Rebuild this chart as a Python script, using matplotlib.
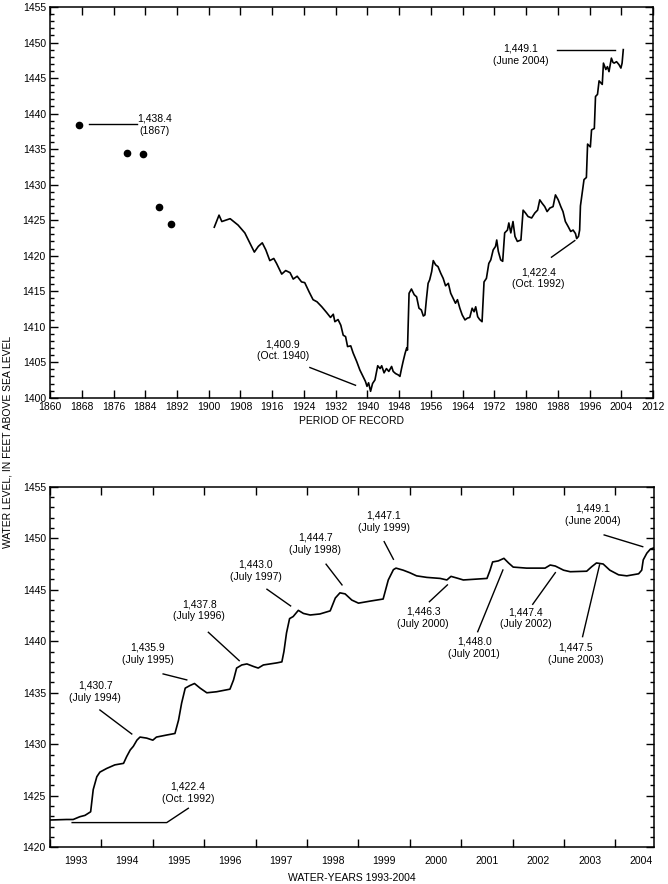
import numpy as np
import matplotlib
matplotlib.use('Agg')
import matplotlib.pyplot as plt
from matplotlib.ticker import MultipleLocator, FixedLocator

plt.rcParams['font.family'] = ['Liberation Sans', 'DejaVu Sans']
plt.rcParams['font.size'] = 7.5

# Early measurements (dots), period of record
dot_years = [1867.3, 1879.4, 1883.4, 1887.5, 1890.5]
dot_levels = [1438.4, 1434.5, 1434.3, 1426.8, 1424.5]

# Period of record hydrograph, 1901-2004
rec_years = [
    1901.4, 1902.6, 1903.3, 1905.4, 1907.4, 1909.1, 1910.4, 1911.5, 1912.5, 1913.5,
    1914.4, 1915.4, 1916.4, 1917.1, 1918.4, 1919.4, 1920.5, 1921.3, 1922.3, 1923.4,
    1924.2, 1925.3, 1926.3, 1927.3, 1928.5, 1929.7, 1930.7, 1931.4, 1931.8, 1932.6,
    1933.3, 1933.9, 1934.5, 1935.0, 1935.8, 1936.4, 1937.3, 1938.1, 1938.9, 1939.5,
    1939.9, 1940.3, 1940.8, 1941.3, 1941.9, 1942.6, 1943.2, 1943.6, 1944.2, 1944.8,
    1945.4, 1946.1, 1946.5, 1947.1, 1947.8, 1948.2, 1948.6, 1949.0, 1949.5, 1949.9,
    1950.1, 1950.5, 1951.1, 1951.8, 1952.4, 1953.0, 1953.6, 1954.1, 1954.5, 1954.9,
    1955.3, 1955.7, 1956.2, 1956.6, 1957.2, 1957.8, 1958.5, 1959.1, 1959.7, 1960.4,
    1961.0, 1961.6, 1962.2, 1962.7, 1963.3, 1963.9, 1964.6, 1965.2, 1965.8, 1966.4,
    1966.9, 1967.3, 1967.8, 1968.3, 1968.9, 1969.4, 1970.0, 1970.6, 1971.1, 1971.7,
    1972.3, 1972.6, 1973.0, 1973.6, 1974.1, 1974.6, 1975.3, 1975.65, 1976.15, 1976.7,
    1977.2, 1977.8, 1978.7, 1979.25, 1979.85, 1980.5, 1981.4, 1982.2, 1982.9, 1983.45,
    1984.0, 1984.7, 1985.3, 1986.0, 1986.8, 1987.4, 1988.1, 1988.75, 1989.3, 1989.9,
    1990.6, 1991.25, 1991.85, 1992.45, 1992.75, 1993.2, 1993.5, 1993.7, 1994.4, 1994.6,
    1995.2, 1995.5, 1996.2, 1996.5, 1997.2, 1997.5, 1998.0, 1998.4, 1999.2, 1999.5,
    2000.1, 2000.5, 2000.9, 2001.5, 2001.9, 2002.2, 2002.8, 2003.4, 2003.9, 2004.2,
    2004.5]
rec_levels = [
    1424.0, 1425.7, 1424.8, 1425.2, 1424.3, 1423.2, 1421.75, 1420.5, 1421.3, 1421.8,
    1420.8, 1419.3, 1419.6, 1418.9, 1417.4, 1417.9, 1417.6, 1416.7, 1417.1, 1416.3,
    1416.2, 1414.9, 1413.8, 1413.5, 1412.8, 1412.0, 1411.3, 1411.75, 1410.7, 1411.0,
    1410.2, 1408.8, 1408.6, 1407.2, 1407.3, 1406.3, 1405.1, 1403.9, 1403.0, 1402.3,
    1401.6, 1402.1, 1400.9, 1402.0, 1402.5, 1404.5, 1404.1, 1404.5, 1403.5, 1404.1,
    1403.7, 1404.4, 1403.7, 1403.4, 1403.2, 1403.0, 1404.1, 1405.1, 1406.25, 1407.0,
    1406.7, 1414.7, 1415.3, 1414.5, 1414.2, 1412.6, 1412.35, 1411.5, 1411.65, 1414.0,
    1416.1, 1416.6, 1417.75, 1419.3, 1418.7, 1418.45, 1417.5, 1416.8, 1415.75, 1416.1,
    1414.7, 1414.0, 1413.3, 1413.8, 1412.6, 1411.65, 1410.95, 1411.2, 1411.3, 1412.6,
    1412.1, 1412.8, 1411.4, 1411.0, 1410.7, 1416.3, 1416.8, 1418.9, 1419.4, 1420.8,
    1421.3, 1422.2, 1420.6, 1419.4, 1419.2, 1423.2, 1423.6, 1424.6, 1423.2, 1424.8,
    1422.7, 1422.0, 1422.2, 1426.4, 1426.0, 1425.5, 1425.3, 1426.0, 1426.4, 1427.85,
    1427.4, 1426.9, 1426.2, 1426.7, 1426.9, 1428.55, 1427.85, 1426.9, 1426.2, 1424.8,
    1424.1, 1423.4, 1423.6, 1423.1, 1422.4, 1422.7, 1423.6, 1427.0, 1429.8, 1430.7,
    1431.0, 1435.7, 1435.3, 1437.7, 1437.9, 1442.4, 1442.7, 1444.6, 1444.1, 1447.1,
    1446.2, 1446.6, 1445.9, 1447.8, 1447.2, 1447.1, 1447.3, 1446.9, 1446.4, 1447.1,
    1449.0]

# Water years 1993-2004 hydrograph
wy_years = [
    1992.75, 1993.07, 1993.2, 1993.33, 1993.43, 1993.54, 1993.59, 1993.66, 1993.72, 1993.85,
    1994.01, 1994.18, 1994.24, 1994.31, 1994.37, 1994.44, 1994.5, 1994.63, 1994.75, 1994.82,
    1995.02, 1995.18, 1995.25, 1995.31, 1995.38, 1995.47, 1995.56, 1995.67, 1995.8, 1995.99,
    1996.25, 1996.32, 1996.38, 1996.48, 1996.58, 1996.71, 1996.8, 1996.9, 1997.16, 1997.26,
    1997.3, 1997.35, 1997.41, 1997.48, 1997.58, 1997.68, 1997.81, 1998.0, 1998.2, 1998.3,
    1998.39, 1998.49, 1998.62, 1998.75, 1998.98, 1999.23, 1999.33, 1999.43, 1999.48, 1999.62,
    1999.75, 1999.88, 2000.08, 2000.34, 2000.47, 2000.55, 2000.69, 2000.79, 2001.25, 2001.31,
    2001.36, 2001.47, 2001.58, 2001.67, 2001.76, 2002.02, 2002.38, 2002.48, 2002.58, 2002.74,
    2002.87, 2003.19, 2003.29, 2003.38, 2003.51, 2003.64, 2003.81, 2003.97, 2004.2, 2004.26,
    2004.29, 2004.36, 2004.43, 2004.49]
wy_levels = [
    1422.65, 1422.7, 1422.7, 1422.97, 1423.1, 1423.45, 1425.6, 1426.85, 1427.3, 1427.65,
    1428.0, 1428.15, 1428.8, 1429.45, 1429.8, 1430.4, 1430.7, 1430.6, 1430.4, 1430.7,
    1430.9, 1431.05, 1432.35, 1434.0, 1435.45, 1435.7, 1435.9, 1435.45, 1435.0, 1435.1,
    1435.35, 1436.25, 1437.4, 1437.7, 1437.8, 1437.55, 1437.4, 1437.7, 1437.9, 1438.0,
    1439.0, 1440.8, 1442.2, 1442.4, 1443.0, 1442.7, 1442.55, 1442.65, 1442.95, 1444.2,
    1444.7, 1444.6, 1444.0, 1443.7, 1443.9, 1444.1, 1445.95, 1446.95, 1447.1, 1446.9,
    1446.65, 1446.35, 1446.2, 1446.1, 1445.95, 1446.3, 1446.1, 1445.95, 1446.1, 1446.9,
    1447.7, 1447.8, 1448.05, 1447.6, 1447.2, 1447.1, 1447.1, 1447.4, 1447.3, 1446.9,
    1446.75, 1446.8, 1447.25, 1447.6, 1447.5, 1446.9, 1446.45, 1446.35, 1446.55, 1446.9,
    1447.9, 1448.55, 1448.95, 1449.05]

wy_labels = [str(y) for y in range(1993, 2005)]

# annotations: (text, text position, leader line points)
top_notes = [
    ('1,438.4\n(1867)', (1886.45, 1438.42), [(1869.9, 1438.56), (1882.0, 1438.56)]),
    ('1,400.9\n(Oct. 1940)', (1918.7, 1406.68), [(1925.5, 1404.25), (1937.0, 1401.75)]),
    ('1,422.4\n(Oct. 1992)', (1983.13, 1416.82), [(1986.4, 1419.78), (1992.28, 1422.12)]),
    ('1,449.1\n(June 2004)', (1978.75, 1448.24), [(1987.9, 1448.89), (2002.35, 1448.89)]),
]
bottom_notes = [
    ('1,422.4\n(Oct. 1992)', (1995.43, 1425.33), [(1995.44, 1423.79), (1995.02, 1422.4), (1993.18, 1422.4)]),
    ('1,430.7\n(July 1994)', (1993.63, 1435.08), [(1993.72, 1433.33), (1994.34, 1431.0)]),
    ('1,435.9\n(July 1995)', (1994.65, 1438.83), [(1994.95, 1436.83), (1995.41, 1436.25)]),
    ('1,437.8\n(July 1996)', (1995.65, 1443.01), [(1995.83, 1440.87), (1996.43, 1438.12)]),
    ('1,443.0\n(July 1997)', (1996.75, 1446.84), [(1996.97, 1445.05), (1997.43, 1443.43)]),
    ('1,444.7\n(July 1998)', (1997.91, 1449.45), [(1998.12, 1447.48), (1998.43, 1445.47)]),
    ('1,447.1\n(July 1999)', (1999.24, 1451.61), [(1999.25, 1449.67), (1999.43, 1447.96)]),
    ('1,446.3\n(July 2000)', (2000.01, 1442.28), [(2000.13, 1443.84), (2000.48, 1445.47)]),
    ('1,448.0\n(July 2001)', (2001.0, 1439.40), [(2001.07, 1440.93), (2001.56, 1446.92)]),
    ('1,447.4\n(July 2002)', (2002.0, 1442.23), [(2002.14, 1443.59), (2002.58, 1446.66)]),
    ('1,447.5\n(June 2003)', (2002.97, 1438.83), [(2003.11, 1440.45), (2003.44, 1447.41)]),
    ('1,449.1\n(June 2004)', (2003.3, 1452.26), [(2003.53, 1450.32), (2004.28, 1449.18)]),
]


def style_axis(ax):
    for s in ax.spines.values():
        s.set_linewidth(1.1)
    ax.tick_params(which='both', direction='in', top=True, right=True,
                   width=1.0, labelsize=7.5, pad=3)
    ax.tick_params(which='major', length=5.5)
    ax.tick_params(which='minor', length=3.2)
    ax.yaxis.set_major_locator(MultipleLocator(5))
    ax.yaxis.set_minor_locator(MultipleLocator(1))


def add_notes(ax, notes):
    for txt, pos, pts in notes:
        ax.text(pos[0], pos[1], txt, ha='center', va='center',
                multialignment='center', fontsize=7.5, linespacing=1.3)
        xs = [p[0] for p in pts]
        ys = [p[1] for p in pts]
        ax.plot(xs, ys, color='black', lw=1.0)


fig = plt.figure(figsize=(6.68, 8.84), dpi=100)

# top panel: period of record
ax1 = fig.add_axes([0.0749, 0.5501, 0.9027, 0.4420])
ax1.plot(dot_years, dot_levels, 'o', color='black', markersize=4.5)
ax1.plot(rec_years, rec_levels, color='black', lw=1.2)
ax1.set_xlim(1860, 2012)
ax1.set_ylim(1400, 1455)
ax1.set_xticks(np.arange(1860, 2013, 8))
style_axis(ax1)
ax1.xaxis.set_minor_locator(FixedLocator([]))
ax1.set_xlabel('PERIOD OF RECORD', fontsize=7.5, labelpad=3)
add_notes(ax1, top_notes)

# bottom panel: water years 1993-2004
ax2 = fig.add_axes([0.0749, 0.0415, 0.9042, 0.4079])
ax2.plot(wy_years, wy_levels, color='black', lw=1.2)
ax2.set_xlim(1992.75, 2004.5)
ax2.set_ylim(1420, 1455)
style_axis(ax2)
wy_starts = [1992.75 + k for k in range(len(wy_labels))]
ax2.xaxis.set_major_locator(FixedLocator(wy_starts))
ax2.xaxis.set_major_formatter(plt.NullFormatter())
ax2.xaxis.set_minor_locator(FixedLocator([s + 0.5 for s in wy_starts]))
ax2.set_xticklabels(wy_labels, minor=True)
ax2.tick_params(axis='x', which='minor', length=0, pad=6)
ax2.set_xlabel('WATER-YEARS 1993-2004', fontsize=7.5, labelpad=5)
add_notes(ax2, bottom_notes)

fig.text(0.011, 0.5, 'WATER LEVEL, IN FEET ABOVE SEA LEVEL', rotation=90,
         ha='center', va='center', fontsize=7.5)

fig.savefig('out.png', dpi=100)
